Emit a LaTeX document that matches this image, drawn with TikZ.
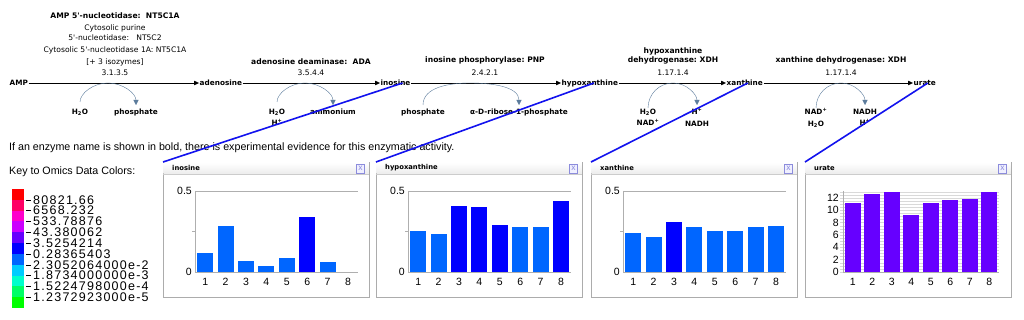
\documentclass[tikz,border=0pt]{standalone}
\usepackage{fontspec}
\setmainfont{Liberation Sans}
\newfontfamily\pathfont{DejaVu Sans}
\usetikzlibrary{arrows.meta,positioning}

\definecolor{cofarc}{RGB}{92,124,156}
\definecolor{linkblue}{RGB}{18,18,238}
\definecolor{barlight}{RGB}{0,102,255}
\definecolor{bardark}{RGB}{0,0,255}
\definecolor{barviolet}{RGB}{102,0,255}
\definecolor{axisgray}{RGB}{175,175,175}
\definecolor{closeblue}{RGB}{140,140,220}

\begin{document}
\begin{tikzpicture}[
  x=1pt, y=1pt,
  met/.style={anchor=west, inner sep=0.5pt, text height=6pt, text depth=1.5pt, font=\pathfont\fontsize{7.3}{9.3}\selectfont\bfseries},
  enz/.style={anchor=south, align=center, inner sep=0pt, font=\pathfont\fontsize{7.6}{9.3}\selectfont},
  cof/.style={anchor=north, align=center, inner sep=0.5pt, font=\pathfont\fontsize{7.3}{11.5}\selectfont\bfseries},
  rxn/.style={-{Triangle[length=5pt,width=4.5pt]}},
  cofarrow/.style={cofarc, -{Triangle[length=5pt,width=5pt]}, shorten >=3pt},
  link/.style={linkblue, line width=1.6pt},
  panel/.style={draw=gray!65, fill=white, anchor=north west, minimum width=206pt, minimum height=135pt, inner sep=0pt},
  ptitle/.style={anchor=west, inner sep=0pt, font=\pathfont\fontsize{6.8}{9}\selectfont\bfseries},
  closebox/.style={draw=closeblue, fill=blue!6, text=closeblue, minimum width=8pt, minimum height=8.5pt, inner sep=0pt, font=\fontsize{8.5}{8.5}\selectfont},
  tick/.style={font=\fontsize{10.5}{12}\selectfont, inner sep=1pt},
  keylab/.style={anchor=west, inner sep=0pt, font=\addfontfeature{LetterSpace=10}\fontsize{12.5}{12}\selectfont},
  note/.style={anchor=west, inner sep=0pt, font=\fontsize{10.7}{12}\selectfont},
  thin
]
  \useasboundingbox (0,0) rectangle (1024,-320);
  \fill[white] (0,0) rectangle (1024,-320);

  % pathway
  \node[met] (amp) at (9,-83) {AMP};
  \node[met] (adenosine) at (199,-83) {adenosine};
  \node[met] (inosine) at (380,-83) {inosine};
  \node[met] (hypoxanthine) at (561,-83) {hypoxanthine};
  \node[met] (xanthine) at (726,-83) {xanthine};
  \node[met] (urate) at (913,-83) {urate};

  \draw[rxn] (amp) -- (adenosine);
  \draw[rxn] (adenosine) -- (inosine);
  \draw[rxn] (inosine) -- (hypoxanthine);
  \draw[rxn] (hypoxanthine) -- (xanthine);
  \draw[rxn] (xanthine) -- (urate);

  \node[enz] (nt5c) at (115,-75.5) {\textbf{AMP 5'-nucleotidase:\ \ NT5C1A}\\[2.7pt]Cytosolic purine\\5'-nucleotidase:\ \ \ NT5C2\\[2.7pt]Cytosolic 5'-nucleotidase 1A:\ NT5C1A\\[2.7pt]{[+ 3 isozymes]}\\[1.7pt]3.1.3.5};
  \node[enz] (ada) at (311,-75.5) {\textbf{adenosine deaminase:\ \ ADA}\\[1pt]3.5.4.4};
  \node[enz] (pnp) at (485,-75.5) {\textbf{inosine phosphorylase:\ PNP}\\[3.2pt]2.4.2.1};
  \node[enz] (xdha) at (673,-75.5) {\textbf{hypoxanthine}\\\textbf{dehydrogenase:\ XDH}\\[3.2pt]1.17.1.4};
  \node[enz] (xdhb) at (841,-75.5) {\textbf{xanthine dehydrogenase:\ XDH}\\[3.2pt]1.17.1.4};

  \coordinate (t1) at (108,-83);
  \coordinate (t2) at (305,-83);
  \coordinate (t3) at (470,-83);
  \coordinate (t4) at (673,-83);
  \coordinate (t5) at (841,-83);

  \node[cof] (w1) at (80,-108) {H\textsubscript{2}O};
  \node[cof] (p1) at (136,-108) {phosphate};
  \node[cof] (w2) at (277,-108) {H\textsubscript{2}O\\H\textsuperscript{+}};
  \node[cof] (n2) at (333,-108) {ammonium};
  \node[cof] (p3) at (423,-108) {phosphate};
  \node[cof] (r3) at (519,-108) {α-D-ribose-1-phosphate};
  \node[cof] (w4) at (648,-108) {H\textsubscript{2}O\\NAD\textsuperscript{+}};
  \node[cof] (h4) at (697,-108) {H\textsuperscript{+}\\NADH};
  \node[cof] (n5) at (816,-108) {NAD\textsuperscript{+}\\H\textsubscript{2}O};
  \node[cof] (h5) at (865,-108) {NADH\\H\textsuperscript{+}};

  \draw[cofarrow, shorten <=6pt] (w1.north) to[out=90,in=180] (t1) to[out=0,in=90] (p1.north);
  \draw[cofarrow, shorten <=6pt] (w2.north) to[out=90,in=180] (t2) to[out=0,in=90] (n2.north);
  \draw[cofarrow, shorten <=3pt] (p3.north) to[out=90,in=180] (t3) to[out=0,in=90] (r3.north);
  \draw[cofarrow] (w4.north) to[out=90,in=180] (t4) to[out=0,in=90] (h4.north);
  \draw[cofarrow] (n5.north) to[out=90,in=180] (t5) to[out=0,in=90] (h5.north);

  \node[note] (evid) at (9,-148) {If an enzyme name is shown in bold, there is experimental evidence for this enzymatic activity.};
  \node[note] (keytitle) at (9,-172) {Key to Omics Data Colors:};

  % colour key
  \foreach \c [count=\i] in {FF0000,FF0066,FF00CC,CC00FF,6600FF,0000FF,0066FF,00CCFF,00FFCC,00FF66,00FF00} {
    \definecolor{keycol}{HTML}{\c}
    \fill[keycol] (12,{-189-(\i-1)*10.82}) rectangle (24,{-189-\i*10.82});
  }
  \foreach \t [count=\k] in {80821.66, 6568.232, 533.78876, 43.380062, 3.5254214, 0.28365403, 2.3052064000e-2, 1.8734000000e-3, 1.5224798000e-4, 1.2372923000e-5} {
    \node[keylab] (key\k) at (33,{-189-\k*10.82}) {\t};
    \draw ([xshift=-2.5pt]key\k.west) -- ++(-5,0);
  }

  % data panels
  \node[panel] (pino) at (163,-162) {};
  \node[panel] (phyp) at (376,-162) {};
  \node[panel] (pxan) at (591,-162) {};
  \node[panel] (pura) at (805,-162) {};

  \foreach \p/\t in {pino/inosine, phyp/hypoxanthine, pxan/xanthine, pura/urate} {
    \fill[top color=white, bottom color=gray!15] ([shift={(0.5,-0.5)}]\p.north west) rectangle ([shift={(-0.5,-12)}]\p.north east);
    \draw[gray!40] ([yshift=-12pt]\p.north west) -- ([yshift=-12pt]\p.north east);
    \node[ptitle] (\p-title) at ([shift={(9pt,-6pt)}]\p.north west) {\t};
    \node[closebox] (\p-close) at ([shift={(-9pt,-6.5pt)}]\p.north east) {x};
  }

  \foreach \sx/\vals in {163/{0.117/barlight, 0.284/barlight, 0.068/barlight, 0.037/barlight, 0.086/barlight, 0.34/bardark, 0.062/barlight},
                         376/{0.253/barlight, 0.235/barlight, 0.41/bardark, 0.40/bardark, 0.29/bardark, 0.28/barlight, 0.28/barlight, 0.44/bardark},
                         591/{0.24/barlight, 0.215/barlight, 0.31/bardark, 0.277/barlight, 0.253/barlight, 0.253/barlight, 0.277/barlight, 0.284/barlight}} {
    \begin{scope}[shift={(\sx,-162)}]
      \foreach \v/\c [count=\i] in \vals
        \fill[\c] ({32+(\i-0.5)*20.4-8},-110) rectangle ++(16,{\v*162});
      \draw[axisgray] (32,-29) -- (195,-29) (29,-69.5) -- (32,-69.5);
      \draw[axisgray] (32,-29) -- (32,-110) -- (195,-110);
      \node[tick, anchor=east] at (30,-29) {0.5};
      \node[tick, anchor=east] at (30,-110) {0};
      \foreach \i in {1,...,8}
        \node[tick] at ({32+(\i-0.5)*20.4},-120) {\i};
    \end{scope}
  }

  \begin{scope}[shift={(805,-162)}]
    \foreach \g in {0,0.5,...,13}
      \draw[gray!30] (35,{-110+\g*6.17}) -- (194,{-110+\g*6.17});
    \foreach \v [count=\i] in {11.2,12.6,13.0,9.2,11.2,11.7,11.9,13.0}
      \fill[barviolet] ({38+(\i-0.5)*19.5-8},-110) rectangle ++(16,{\v*6.17});
    \draw[axisgray] (38,-29) -- (38,-110) -- (194,-110);
    \foreach \g in {0,2,...,12}
      \node[tick, anchor=east] at (35,{-110+\g*6.17}) {\g};
    \foreach \i in {1,...,8}
      \node[tick] at ({38+(\i-0.5)*19.5},-120) {\i};
  \end{scope}

  \draw[link] (pino.north west) -- ([xshift=7pt]inosine.center);
  \draw[link] (phyp.north west) -- ([xshift=4pt]hypoxanthine.center);
  \draw[link] (pxan.north west) -- ([xshift=3pt]xanthine.center);
  \draw[link] (pura.north west) -- ([xshift=3pt]urate.center);
\end{tikzpicture}
\end{document}
